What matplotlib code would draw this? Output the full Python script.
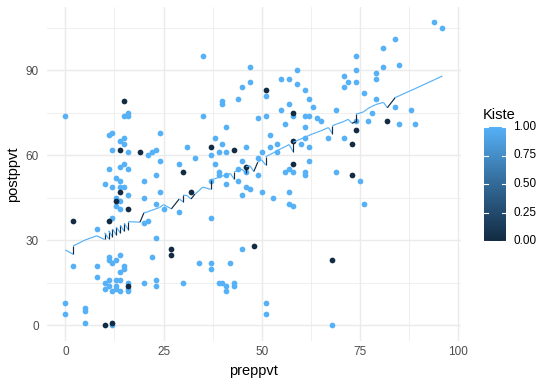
import numpy as np
import matplotlib
matplotlib.use("Agg")
import matplotlib.pyplot as plt
from matplotlib.colors import LinearSegmentedColormap
from matplotlib.collections import LineCollection

plt.rcParams['font.family'] = ['Liberation Sans', 'DejaVu Sans']

# points with Kiste = 1
blue_pre = [0, 16, 15, 16, 12, 11, 14, 15, 15, 12, 16, 24, 21, 22, 23, 31, 24, 29, 33,
            11, 14, 15, 16, 13, 14, 14, 15, 12, 10, 16, 13, 14, 13, 14, 20, 23, 24, 20, 23,
            25, 29, 12, 8, 20, 21, 23, 22, 34, 2, 8, 11, 11, 12, 13, 14, 15, 15, 14, 8,
            11, 10, 11, 10, 13, 14, 13, 13, 12, 14, 16, 16, 16, 20, 23, 23, 30, 0, 0, 5,
            5, 5, 12,
            35, 47, 47, 45, 44, 40, 40, 51, 59, 55, 57, 59, 61, 62, 57, 63, 55, 58, 61, 62,
            64, 65, 35, 51, 49, 56, 61, 41, 52, 38, 40, 39, 41, 46, 37, 52, 54, 50, 54, 60,
            61, 62, 67, 38, 45, 49, 62,
            39, 39, 41, 44, 46, 49, 44, 41, 37, 56, 57, 58, 61, 61, 46, 47, 45, 50, 53, 57,
            57, 58, 37, 45, 37, 37, 42, 39, 40, 41, 41, 43, 43, 51, 51,
            94, 96, 84, 81, 74, 85, 81, 74, 79, 79, 71, 72, 74, 71, 76, 79, 69, 84, 88, 78,
            74, 77, 85, 89, 71, 69, 75, 76, 68]
blue_post = [74, 75, 74, 74, 68, 67, 65, 66, 64, 62, 61, 68, 60, 61, 62, 63, 58, 57, 59,
             55, 56, 57, 55, 52, 51, 49, 49, 49, 50, 46, 45, 44, 42, 41, 51, 53, 47, 45, 43,
             41, 40, 38, 34, 36, 37, 31, 24, 22, 21, 21, 24, 23, 22, 23, 25, 21, 20, 19, 17,
             16, 15, 14, 13, 16, 16, 14, 13, 12, 12, 15, 13, 12, 15, 16, 14, 15, 8, 4, 6,
             5, 1, 0,
             95, 91, 86, 84, 80, 79, 78, 81, 90, 87, 87, 85, 83, 80, 78, 77, 76, 74, 74, 74,
             73, 72, 74, 74, 73, 71, 70, 70, 67, 66, 64, 61, 61, 63, 60, 63, 64, 61, 61, 64,
             66, 63, 66, 57, 58, 59, 58,
             54, 53, 53, 55, 54, 53, 51, 50, 51, 54, 55, 54, 54, 53, 49, 48, 46, 47, 45, 47,
             43, 42, 38, 27, 22, 20, 22, 15, 15, 14, 12, 15, 14, 8, 4,
             107, 105, 101, 98, 95, 92, 91, 90, 89, 87, 88, 86, 86, 84, 82, 80, 76, 77, 76, 75,
             72, 72, 71, 71, 66, 54, 51, 43, 0]

# points with Kiste = 0
dark_pre = [15, 14, 19, 14, 13, 16, 30, 32, 2, 11, 27, 27, 16, 10, 12, 51, 58, 37, 43, 58,
            58, 46, 48, 82, 74, 73, 73, 68]
dark_post = [79, 62, 61, 47, 44, 41, 54, 47, 37, 37, 27, 25, 14, 0, 1, 83, 75, 63, 62, 65,
             57, 56, 28, 72, 69, 64, 53, 23]

# fitted values, connected in order of preppvt
fit_x = [0, 2, 2, 5, 8, 10, 10, 11, 11, 12, 12, 13, 13, 14, 14, 15, 15, 16, 16, 19,
         20, 21, 22, 23, 24, 25, 27, 29, 30, 30, 31, 32, 33, 34, 35, 37, 37, 38, 39, 40,
         41, 42, 43, 43, 44, 45, 46, 46, 47, 48, 49, 50, 51, 51, 52, 53, 54, 55, 56, 57,
         58, 58, 59, 60, 61, 62, 63, 64, 65, 67, 68, 68, 69, 71, 72, 73, 74, 74, 75, 76,
         77, 78, 79, 81, 82, 84, 85, 88, 89, 94, 96]
fit_y = [26.6, 25.1, 28.0, 30.1, 31.6, 30.3, 32.7, 30.6, 33.4, 31.3, 34.0, 31.9, 34.6, 32.6, 35.3, 33.2, 36.0, 33.8, 36.6, 36.4,
         39.7, 40.1, 40.6, 41.1, 41.6, 42.6, 41.1, 44.6, 43.6, 46.0, 45.8, 44.6, 46.3, 47.5, 48.8, 48.0, 51.3, 51.7, 52.2, 52.7,
         53.1, 53.6, 51.6, 54.2, 54.6, 55.1, 53.6, 56.0, 56.3, 54.3, 57.6, 58.4, 56.6, 59.5, 60.2, 60.9, 61.7, 62.4, 63.1, 63.8,
         61.3, 64.6, 65.2, 65.8, 66.4, 67.0, 67.6, 68.1, 68.6, 69.8, 67.7, 70.4, 71.0, 72.0, 72.7, 71.3, 71.9, 74.6, 74.9, 75.4,
         76.5, 77.2, 77.9, 78.7, 76.8, 80.4, 81.0, 82.9, 83.5, 86.7, 88.0]
fit_k = [1, 0, 1, 1, 1, 0, 1, 0, 1, 0, 1, 0, 1, 0, 1, 0, 1, 0, 1, 0,
         1, 1, 1, 1, 1, 1, 0, 1, 0, 1, 1, 0, 1, 1, 1, 0, 1, 1, 1, 1,
         1, 1, 0, 1, 1, 1, 0, 1, 1, 0, 1, 1, 0, 1, 1, 1, 1, 1, 1, 1,
         0, 1, 1, 1, 1, 1, 1, 1, 1, 1, 0, 1, 1, 1, 1, 0, 0, 1, 1, 1,
         1, 1, 1, 1, 0, 1, 1, 1, 1, 1, 1]

cmap = LinearSegmentedColormap.from_list("gg", ["#132B43", "#336A98", "#56B1F7"])

W, H = 552, 385
fig = plt.figure(figsize=(W/100, H/100), dpi=100)
ax = fig.add_axes([46.5/W, 1-340.5/H, (461.2-46.5)/W, (340.5-7)/H])
ax.set_xlim(-4.8, 100.8)
ax.set_ylim(-5.35, 112.35)

for v in [12.5, 37.5, 62.5, 87.5]:
    ax.axvline(v, color="#EBEBEB", lw=0.55, zorder=0)
for v in [15, 45, 75, 105]:
    ax.axhline(v, color="#EBEBEB", lw=0.55, zorder=0)
for v in [0, 25, 50, 75, 100]:
    ax.axvline(v, color="#EBEBEB", lw=1.05, zorder=0)
for v in [0, 30, 60, 90]:
    ax.axhline(v, color="#EBEBEB", lw=1.05, zorder=0)

ax.scatter(blue_pre, blue_post, s=17, color=cmap(1.0), linewidths=0, zorder=3)
ax.scatter(dark_pre, dark_post, s=17, color=cmap(0.0), linewidths=0, zorder=3)

segs = [[(fit_x[i], fit_y[i]), (fit_x[i+1], fit_y[i+1])] for i in range(len(fit_x)-1)]
lc = LineCollection(segs, colors=[cmap(float(k)) for k in fit_k[:-1]], linewidths=0.85, zorder=4)
ax.add_collection(lc)

ax.set_xticks([0, 25, 50, 75, 100])
ax.set_yticks([0, 30, 60, 90])
ax.tick_params(length=0, labelsize=8.45, labelcolor="#4D4D4D")
ax.tick_params(axis="x", pad=4)
ax.tick_params(axis="y", pad=5.5)
for s in ax.spines.values():
    s.set_visible(False)

fig.text(253.8/W, 1-371/H, "preppvt", ha="center", va="center", fontsize=10.56)
fig.text(13/W, 1-173.8/H, "postppvt", ha="center", va="center", rotation=90, fontsize=10.56)

# colour bar legend
cax = fig.add_axes([484/W, 1-241/H, 22/W, 114/H])
grad = np.linspace(0, 1, 256).reshape(-1, 1)
cax.imshow(grad, cmap=cmap, origin="lower", aspect="auto", extent=[0, 1, 0, 1])
for v in [0, 0.25, 0.5, 0.75, 1.0]:
    cax.plot([0, 0.2], [v, v], color="white", lw=0.8)
    cax.plot([0.8, 1], [v, v], color="white", lw=0.8)
    cax.text(1.32, v, "%.2f" % v, ha="left", va="center", fontsize=8.45, transform=cax.transAxes)
cax.set_xlim(0, 1)
cax.set_ylim(0, 1)
cax.axis("off")
fig.text(483/W, 1-115/H, "Kiste", ha="left", va="center", fontsize=10.56)

fig.savefig("out.png", dpi=100)
